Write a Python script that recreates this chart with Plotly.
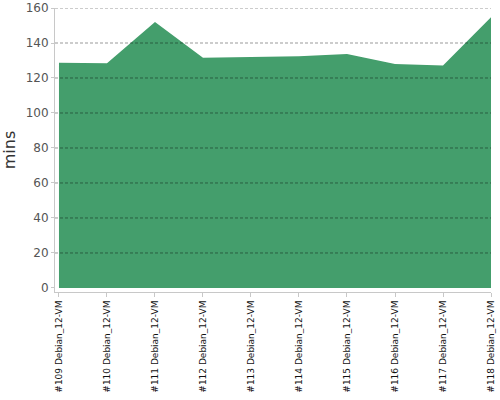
import plotly.graph_objects as go

builds = ["#109 Debian_12-VM", "#110 Debian_12-VM", "#111 Debian_12-VM", "#112 Debian_12-VM",
          "#113 Debian_12-VM", "#114 Debian_12-VM", "#115 Debian_12-VM", "#116 Debian_12-VM",
          "#117 Debian_12-VM", "#118 Debian_12-VM"]
minutes = [128.7, 128.4, 152.0, 131.6, 132.0, 132.4, 133.7, 128.0, 127.2, 154.7]
y_ticks = [0, 20, 40, 60, 80, 100, 120, 140, 160]
grid_values = [20, 40, 60, 80, 100, 120, 140, 160]

fig = go.Figure()
fig.add_trace(go.Scatter(
    x=list(range(len(builds))), y=minutes, mode="lines", fill="tozeroy",
    fillcolor="#449e6c", line=dict(width=0, color="#449e6c"), hoverinfo="skip",
))

for g in grid_values:
    fig.add_shape(type="line", xref="paper", x0=0, x1=1, yref="y", y0=g, y1=g,
                  line=dict(color="rgba(0,0,0,0.4)", width=1, dash="3px,2px"), layer="above")

fig.update_layout(
    width=500, height=400,
    margin=dict(l=55, r=9, t=8, b=108),
    plot_bgcolor="white", paper_bgcolor="white",
    showlegend=False,
    font=dict(family="DejaVu Sans", color="#444"),
    xaxis=dict(
        range=[-0.083, 9.0], tickmode="array", tickvals=list(range(len(builds))),
        ticktext=builds, tickangle=-90, tickfont=dict(size=9, color="#111"),
        showgrid=False, zeroline=False, showline=True, linecolor="#c8c8c8", linewidth=1,
        ticks="outside", ticklen=4, tickcolor="#c8c8c8", automargin=False,
    ),
    yaxis=dict(
        range=[-2.3, 160], tickmode="array", tickvals=y_ticks,
        tickfont=dict(size=12, color="#555"), automargin=False,
        showgrid=False, zeroline=False, showline=True, linecolor="#c8c8c8", linewidth=1,
        ticks="outside", ticklen=3, tickcolor="#c8c8c8",
        title=dict(text="mins", font=dict(size=16, color="#333"), standoff=10),
    ),
)

fig.write_html("out.html", post_script="document.body.style.margin='0';",
               config={"displayModeBar": False})
